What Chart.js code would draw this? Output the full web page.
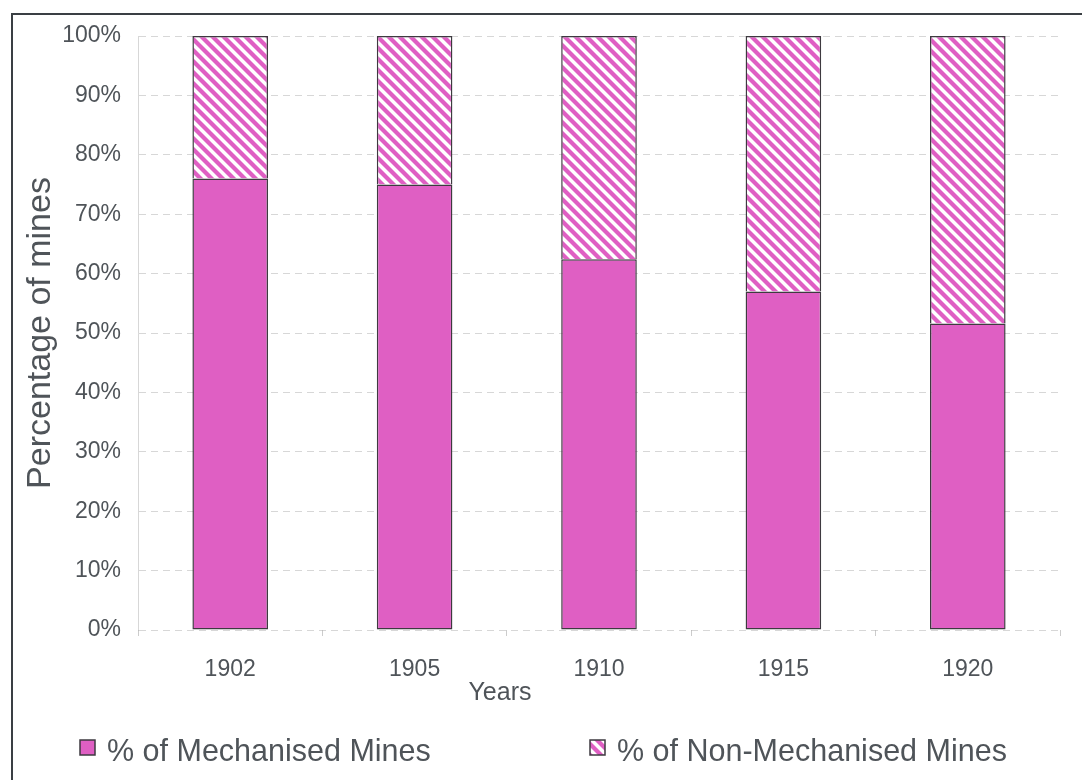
<!DOCTYPE html>
<html>
<head>
<meta charset="utf-8">
<script src="https://cdn.jsdelivr.net/npm/chart.js@4"></script>
<style>
  html, body { margin: 0; padding: 0; background: #fff; }
  canvas { display: block; }
</style>
</head>
<body>
<canvas id="graficoMinas" width="1082" height="780"></canvas>
<script>
const years = ['1902', '1905', '1910', '1915', '1920'];
const mechanised = [76, 75, 62.4, 57, 51.6];
const nonMechanised = [24, 25, 37.6, 43, 48.4];
const seriesNames = ['% of Mechanised Mines', '% of Non-Mechanised Mines'];

const rosa = '#df5fc3';
const borde = '#3e3a40';
const texto = '#4f5459';
const fuente = "'Liberation Sans', Arial, sans-serif";

// diagonal stripes for the second series
const crearRayas = () => {
    const n = 11;
    const c = document.createElement('canvas');
    c.width = n;
    c.height = n;
    const g = c.getContext('2d');
    g.fillStyle = '#fff';
    g.fillRect(0, 0, n, n);
    g.strokeStyle = rosa;
    g.lineWidth = 4.2;
    for (const x0 of [-n, 0, n]) {
        g.beginPath();
        g.moveTo(x0 - n, -n);
        g.lineTo(x0 + 2 * n, 2 * n);
        g.stroke();
    }
    return g.createPattern(c, 'repeat');
};
const rayas = crearRayas();

// frame, "Years" caption and the legend row
const extras = {
    id: 'extras',
    beforeDraw(chart) {
        const ctx = chart.ctx;
        ctx.save();
        ctx.fillStyle = '#fff';
        ctx.fillRect(0, 0, chart.width, chart.height);
        ctx.strokeStyle = '#3a3f44';
        ctx.lineWidth = 2;
        ctx.beginPath();
        ctx.moveTo(12, chart.height);
        ctx.lineTo(12, 14);
        ctx.lineTo(chart.width, 14);
        ctx.stroke();
        ctx.restore();
    },
    afterDraw(chart) {
        const ctx = chart.ctx;
        ctx.save();
        ctx.fillStyle = texto;
        ctx.textBaseline = 'alphabetic';
        ctx.textAlign = 'center';
        ctx.font = `25px ${fuente}`;
        ctx.fillText('Years', 500, 700);

        const posiciones = [80, 590];
        ctx.textAlign = 'left';
        ctx.font = `30.5px ${fuente}`;
        chart.data.datasets.forEach((ds, i) => {
            const x = posiciones[i];
            ctx.fillStyle = ds.backgroundColor;
            ctx.fillRect(x, 740, 15, 15);
            ctx.strokeStyle = borde;
            ctx.lineWidth = 1.5;
            ctx.strokeRect(x, 740, 15, 15);
            ctx.fillStyle = texto;
            ctx.fillText(ds.label, x + 27, 761);
        });
        ctx.restore();
    }
};

new Chart(document.getElementById('graficoMinas'), {
    type: 'bar',
    data: {
        labels: years,
        datasets: [
            {
                label: seriesNames[0],
                data: mechanised,
                backgroundColor: rosa,
                borderColor: borde,
                borderWidth: 1.5,
                borderSkipped: false,
                barPercentage: 0.41,
                categoryPercentage: 1
            },
            {
                label: seriesNames[1],
                data: nonMechanised,
                backgroundColor: rayas,
                borderColor: borde,
                borderWidth: 1.5,
                borderSkipped: 'bottom',
                barPercentage: 0.41,
                categoryPercentage: 1
            }
        ]
    },
    options: {
        responsive: false,
        animation: false,
        layout: { padding: { top: 36, right: 22, bottom: 0, left: 0 } },
        plugins: {
            legend: { display: false },
            tooltip: { enabled: false }
        },
        scales: {
            x: {
                stacked: true,
                afterFit: (scale) => { scale.height = 150; },
                grid: {
                    drawOnChartArea: false,
                    drawTicks: true,
                    tickLength: 6,
                    tickColor: 'rgba(170,170,170,0.6)'
                },
                border: { display: false },
                ticks: {
                    color: texto,
                    padding: 20,
                    font: { family: fuente, size: 23 }
                }
            },
            y: {
                stacked: true,
                min: 0,
                max: 100,
                afterFit: (scale) => { scale.width = 138; },
                grid: {
                    color: 'rgba(175,175,175,0.5)',
                    drawTicks: false
                },
                border: {
                    color: 'rgba(175,175,175,0.5)',
                    dash: [7, 5]
                },
                ticks: {
                    stepSize: 10,
                    color: texto,
                    padding: 17,
                    font: { family: fuente, size: 23 },
                    callback: (v) => v + '%'
                },
                title: {
                    display: true,
                    text: 'Percentage of mines',
                    color: texto,
                    padding: { top: 20, bottom: 0 },
                    font: { family: fuente, size: 34 }
                }
            }
        }
    },
    plugins: [extras]
});
</script>
</body>
</html>
